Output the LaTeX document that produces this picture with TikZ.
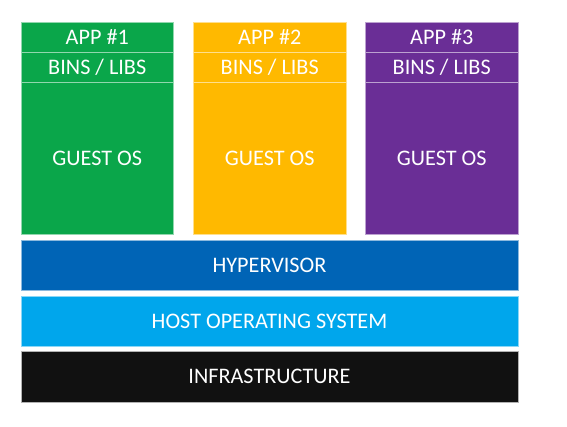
\documentclass[tikz,border=0pt]{standalone}
\usepackage{fontspec}
\setmainfont{Carlito}
\usetikzlibrary{positioning}
\definecolor{appgreen}{HTML}{0AA64A}
\definecolor{appyellow}{HTML}{FFB900}
\definecolor{apppurple}{HTML}{6A2E96}
\definecolor{hypblue}{HTML}{0064B6}
\definecolor{hostblue}{HTML}{00A6EC}
\definecolor{infrablack}{HTML}{111111}
\begin{document}
\begin{tikzpicture}[x=1pt, y=-1pt,
    part/.style={fill=#1, draw=white!55!#1, line width=0.7pt, text=white,
      inner sep=0pt, outer sep=0pt, minimum width=152.5pt,
      font=\fontsize{22.2}{26}\selectfont},
    strip/.style={part=#1, minimum height=30pt},
    guest/.style={part=#1, minimum height=152pt},
    layer/.style={part=#1, anchor=north west, minimum width=497pt, minimum height=50pt}]
  \useasboundingbox (0,0) rectangle (567,427);
  % guests
  \node [strip=appgreen, anchor=north west] (app1) at (21, 22) {APP \#1};
  \node [strip=appgreen, below=0pt of app1] (bins1) {BINS / LIBS};
  \node [guest=appgreen, below=0pt of bins1] (os1) {GUEST OS};
  \node [strip=appyellow, anchor=north west] (app2) at (193.5, 22) {APP \#2};
  \node [strip=appyellow, below=0pt of app2] (bins2) {BINS / LIBS};
  \node [guest=appyellow, below=0pt of bins2] (os2) {GUEST OS};
  \node [strip=apppurple, anchor=north west] (app3) at (365.5, 22) {APP \#3};
  \node [strip=apppurple, below=0pt of app3] (bins3) {BINS / LIBS};
  \node [guest=apppurple, below=0pt of bins3] (os3) {GUEST OS};
  % layers
  \node [layer=hypblue] (hyp) at (21, 240) {HYPERVISOR};
  \node [layer=hostblue] (host) at (21, 296) {HOST OPERATING SYSTEM};
  \node [layer=infrablack, draw=white!70!black, minimum height=51pt] (infra) at (21, 351) {INFRASTRUCTURE};
\end{tikzpicture}
\end{document}
